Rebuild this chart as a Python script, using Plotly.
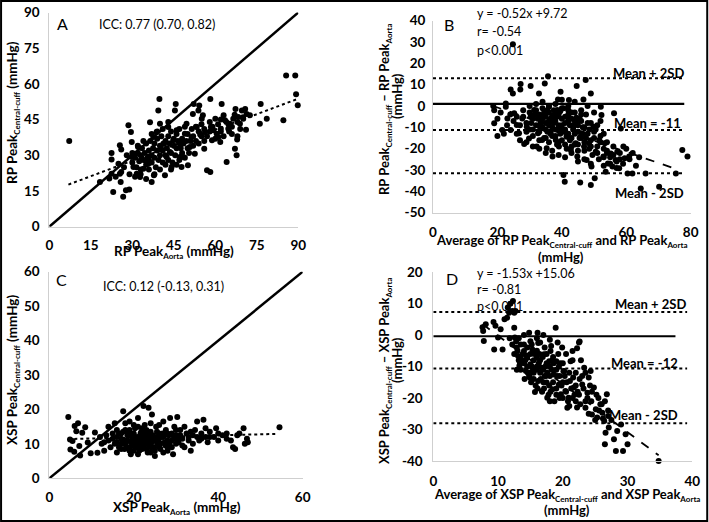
import plotly.graph_objects as go

# ---------------- Panel A: RP Peak Aorta vs RP Peak Central-cuff ----------------
a_pts = [
    (7.2, 36), (18.3, 18.8), (22.5, 31), (22.5, 28.2), (22.5, 22.3), (23.1, 14.6), (21.7, 20.2),
    (25, 26.5), (25.5, 34.2), (25.5, 22.3), (25.8, 18.8), (26, 32.4), (26.7, 12.6), (27.7, 15.3),
    (28.6, 42.6), (28.9, 15.6), (29.5, 39.8), (29.8, 35.6), (29.8, 29.3), (30.4, 25.1), (31, 30.7),
    (31.6, 22.3), (32.8, 20.9), (32.1, 33.5), (33.4, 28.6), (34, 24.4), (35.2, 27.2), (35.8, 26.5),
    (36.4, 43.9), (37, 18.8), (37.6, 37.7), (37.8, 21.6), (38.8, 39.8), (39.4, 48.8), (39.8, 53.7),
    (40, 43.3), (40.4, 32.8), (41.2, 34.9), (41.8, 21.6), (42.4, 29.3), (43, 41.9), (43.6, 31.4),
    (44.2, 25.1), (44.8, 36.3), (45.4, 48.8), (45.7, 51.6), (46, 40.5), (47.2, 34.9), (47.2, 29.3),
    (47.8, 25.1), (48.4, 29.3), (49, 39.1), (49.6, 43.3), (50.1, 25.8), (50.8, 33.5), (51.4, 37.7),
    (51.9, 47.4), (52.2, 51.6), (52.6, 30.7), (53.3, 41.9), (53.9, 48.8), (54.2, 50.9), (54.5, 39.1),
    (55.1, 45.4), (55.5, 46.8), (56, 32.8), (56.3, 39.8), (57, 23.7), (58.2, 23), (58.2, 53.7),
    (58.4, 41.9), (58.8, 36.3), (59.3, 40.5), (60, 45.4), (60.5, 39.1), (61.1, 37.7), (61.8, 35.6),
    (62, 41.2), (62.3, 51.6), (63, 46.8), (63.5, 44.7), (64.1, 27.2), (64.7, 41.2), (65.3, 43.3),
    (66.5, 45.4), (67.1, 32.8), (67.3, 49.5), (67.7, 30), (67.9, 36.6), (68.3, 46.1), (68.9, 43.3),
    (69.6, 48.8), (70.1, 45.4), (70.8, 49.5), (71.1, 40.7), (71.3, 47.4), (72.5, 46.8), (76.1, 43.3),
    (76.4, 51.6), (78.6, 45.4), (84.6, 44.7), (85.6, 63.5), (88.9, 63.5), (89.2, 55.6), (89.8, 51.0),
    (30, 27), (31, 29), (31.5, 25), (32, 31), (32.5, 27.5), (33, 30), (33, 24), (33.5, 33), (34, 28),
    (34.5, 31), (35, 26), (35, 35), (35.5, 29), (36, 32), (36, 24), (36.5, 36), (37, 30), (37, 27),
    (37.5, 33), (38, 35), (38, 29), (38.5, 25), (39, 32), (39, 37), (39.5, 28), (40, 34), (40, 30),
    (40.5, 38), (41, 27), (41, 32), (41.5, 35), (42, 30), (42, 36), (42.5, 33), (43, 28), (43, 38),
    (43.5, 35), (44, 31), (44, 40), (44.5, 27), (45, 34), (45, 37), (45.5, 30), (46, 33), (46, 39),
    (46.5, 36), (47, 28), (47, 41), (47.5, 33), (48, 37), (48, 31), (48.5, 35), (49, 29), (49, 42),
    (49.5, 36), (50, 33), (50, 39), (50.5, 31), (51, 36), (51.5, 41), (52, 34), (52, 38), (53, 36),
    (53, 42), (54, 35), (54, 40), (55, 38), (55, 43), (56, 41), (57, 38), (58, 44), (59, 42), (60, 37),
    (61, 43), (62, 40), (63, 38), (64, 44), (65, 40), (66, 42), (67, 47), (68, 44), (69, 41), (70, 46),
    (66, 39), (68, 38), (62, 45), (58, 40), (56, 36), (44, 24), (42, 26), (38, 22), (40, 24), (46, 26),
    (36, 28), (34, 36), (32, 34), (30, 31), (28, 30), (27, 25), (26, 23), (24, 21), (29, 22), (31, 21),
    (33, 22), (35, 20), (39, 40), (41, 41), (43, 44), (37, 39),
]
a_x = [p[0] for p in a_pts]
a_y = [p[1] for p in a_pts]
a_trend_x = [6.9, 89.8]
a_trend_y = [17.7, 53.7]
a_identity = [0, 90]
a_ticks = [0, 15, 30, 45, 60, 75, 90]

# ---------------- Panel B: Bland-Altman RP ----------------
b_pts = [
    (24.8, 29), (35.7, 14), (34.7, 10.6), (27.2, 10.3), (30.3, 9.4), (24.1, 7.8), (27.1, 7.8),
    (32.9, 5.9), (39.6, 6.7), (44.6, 9.4), (47.4, 12.2), (49, 5.9), (46.7, 3.1), (42.2, 2.8),
    (38.8, 3.1), (24.8, 5.9), (22.6, 1.2), (18.7, 0), (19, -8.1), (20, -14), (21.5, -11.2),
    (22.6, -0.3), (23.1, -5.8), (24.1, -11.2), (25.2, -3.4), (26, -8.9), (26.7, -12.8), (27.7, -5.8),
    (28.3, -17.8), (29.1, -9.7), (29.8, -15.2), (30.3, -5), (31.4, -1.9), (32.2, -19), (32.6, -12.8),
    (33.4, -8.1), (33.9, -15.9), (34.7, -4.2), (35.3, -19.8), (36, -0.3), (36.5, -12), (37.1, -23.7),
    (37.6, -6.6), (38.1, -15.9), (38.6, -1.9), (39.1, -19), (39.9, -10.5), (40.5, -32.3), (40.9, -35.5),
    (41.5, -14.4), (42.2, -5.8), (42.8, -20.6), (43.6, -9.7), (44.3, -17.5), (44.8, -23.7), (45.7, -35.9),
    (46.1, -12.8), (46.9, -19), (47.7, -25.3), (48.4, -17.5), (49, -37), (49.2, -28.4), (49.8, -9.7),
    (50.2, -33.9), (50.5, -21.4), (51.6, -15.9), (52.1, -0.3), (52.3, -4.2), (52.9, -23.7), (53.3, -17.5),
    (53.6, -30.8), (54.3, -26.9), (55.2, -22.2), (55.7, -28.4), (56.2, -3.4), (56.7, -25.3), (57.2, -21.4),
    (57.8, -29.2), (58.3, -10.5), (59.1, -19), (59.5, -24.5), (60.4, -31.6), (60.9, -23.7), (61.9, -31.6),
    (64.5, -38.6), (66, -31.6), (70.2, -37.8), (75.4, -31.6), (77.4, -20.6), (79, -23.7),
    (28, -5), (29, -8), (30, -3), (30, -11), (31, -6), (31, -14), (32, -2), (32, -9), (33, -4),
    (33, -12), (33.5, -7), (34, -1), (34, -10), (34.5, -15), (35, -5), (35, -8), (35.5, -12), (36, -3),
    (36, -17), (36.5, -6), (37, -10), (37, -14), (37.5, -2), (38, -7), (38, -11), (38.5, -18), (39, -4),
    (39, -9), (39.5, -13), (40, -6), (40, -16), (40.5, -1), (41, -8), (41, -11), (41.5, -20), (42, -4),
    (42, -13), (42.5, -9), (43, -6), (43, -15), (43.5, -11), (44, -3), (44, -18), (44.5, -8), (45, -12),
    (45, -21), (45.5, -6), (46, -15), (46.5, -10), (47, -17), (47.5, -4), (48, -13), (48.5, -20), (49, -8),
    (49.5, -23), (50, -15), (50.5, -11), (51, -19), (51.5, -25), (52, -14), (53, -20), (54, -17), (55, -24),
    (56, -19), (57, -26), (58, -22), (59, -27), (60, -20), (61, -25), (62, -22), (63, -28), (64, -24),
    (55, -27), (53, -28), (57, -29), (54, -22), (52, -7), (50, -3), (48, 0), (46, -2), (44, 2), (42, 0),
    (40, 3), (38, 1), (36, 0), (34, 2), (32, 1), (30, 0), (27, -9), (26, -13), (25, -7), (24, -4),
    (23, -9), (22, -13), (21, -3), (20, -6), (19, -2), (27, -16), (29, -17), (31, -19), (33, -20),
    (35, -22), (37, -21), (39, -23), (41, -24), (43, -22), (45, -26), (47, -25), (49, -27),
    (30.5, -8), (31.5, -4), (32.5, -6), (33, -9.5), (34, -6), (34.5, -3), (35, -11), (35.5, -2), (36, -9),
    (36.5, -13), (37, -4.5), (37.5, -8), (38, -14), (38.5, -5), (39, -11.5), (39.5, -2.5), (40, -9),
    (40.5, -12), (41, -5), (41.5, -14), (42, -7), (42.5, -16), (43, -3), (43.5, -9), (44, -13), (44.5, -5.5),
    (45, -9), (45.5, -15), (46, -7), (46.5, -13), (47, -10), (47.5, -15), (48, -8), (48.5, -11), (49, -16),
    (50, -12), (51, -9), (52, -17), (53, -13), (54, -21), (56, -23), (58, -25), (35, -15), (33, -16),
    (31, -11), (29, -12), (28, -2), (26, -5), (39, -17), (41, -18), (43, -19), (45, -18), (47, -21),
    (49, -19), (51, -22), (53, -24), (36, -7), (38, -3), (40, -1), (42, -2), (44, -7), (46, -4),
]
b_x = [p[0] for p in b_pts]
b_y = [p[1] for p in b_pts]
b_zero = 1.0
b_mean = -11.2
b_upper = 13.0
b_lower = -31.5
b_reg_x = [18.5, 76]
b_reg_y = [-0.52 * 18.5 + 9.72, -0.52 * 76 + 9.72]
b_ticks = [40, 30, 20, 10, 0, -10, -20, -30, -40, -50]
b_xticks = [0, 20, 40, 60, 80]

# ---------------- Panel C: XSP Peak Aorta vs XSP Peak Central-cuff ----------------
c_pts = [
    (4.5, 17.8), (4.9, 11.3), (5, 8.4), (5.5, 10.8), (5.9, 7.7), (6, 15.2), (6.4, 13.7), (6.8, 16),
    (7.1, 9.4), (7.3, 6.6), (7.8, 13.2), (8.5, 14.8), (9.1, 10.4), (9.8, 7.3), (10.8, 13.3), (11.4, 7.4),
    (12.4, 10), (13, 8), (13.5, 12.5), (14, 15), (14.5, 9), (15, 11.5), (15.5, 16), (16, 7.5), (16.5, 13),
    (17, 10), (17.5, 19.5), (17.8, 8.5), (18, 14), (18.5, 11), (19, 16.5), (19.3, 7), (19.6, 12.5),
    (20, 9.5), (20.3, 14.5), (20.6, 11), (21, 17.5), (21.3, 8), (21.6, 13), (22, 10), (22.3, 21),
    (22.6, 15.5), (23, 12), (23.3, 7.5), (23.5, 20.5), (23.8, 9.5), (24, 13.5), (24.3, 18.5), (24.6, 11),
    (25, 6.5), (25.3, 15), (25.6, 10), (26, 13), (26.3, 8.5), (26.6, 12), (27, 16.5), (27.3, 10.5),
    (27.6, 14), (28, 9), (28.3, 12.5), (28.6, 17.5), (29, 11), (29.3, 7), (29.6, 15), (30, 12.5),
    (30.3, 17.8), (30.6, 10.5), (31, 14), (31.5, 11.5), (32, 9), (32.5, 13), (33, 11), (33.5, 8),
    (34, 12.5), (34.5, 14), (35, 16.5), (35.5, 11), (36, 13), (36.5, 17), (37, 12), (37.5, 10.5),
    (38, 13.5), (39, 12), (39.5, 14.5), (40, 11), (41, 12.5), (42, 13), (43, 11), (43.5, 9), (44, 8.5),
    (44.5, 12.5), (45, 13), (46, 14.5), (46.3, 10), (46.8, 11.5), (47, 10.5), (54.5, 14.8),
    (15.5, 10), (16, 12), (16.5, 9), (17, 11.5), (17.5, 13.5), (18, 10), (18.5, 12.5), (19, 9), (19.5, 11),
    (20, 13), (20.5, 10), (21, 12), (21.5, 9.5), (22, 11.5), (22.5, 13), (23, 10), (23.5, 11.5), (24, 9),
    (24.5, 12.5), (25, 11), (25.5, 13.5), (26, 10.5), (27, 12), (28, 11), (29, 13), (30, 10), (18, 11),
    (20, 11.5), (22, 12), (24, 11), (19, 14), (21, 15), (23, 14), (17, 13), (16, 14), (20, 8), (22, 8.5),
    (24, 7.5), (26, 9), (28, 8), (30.5, 11.5), (31, 12.5), (33, 12), (36, 11.5), (38, 12), (20.8, 11.8),
    (21.8, 10.5), (19.8, 12.2), (23.2, 12.8),
    (16, 10.5), (17, 8.5), (17.5, 11), (18.3, 9), (18.8, 13), (19.3, 10.5), (19.8, 9.5), (20.3, 12),
    (20.8, 9), (21.3, 11), (21.8, 13.5), (22.3, 9.5), (22.8, 11), (23.3, 10), (23.8, 12), (24.3, 10.5),
    (24.8, 9), (25.3, 12), (25.8, 11.5), (26.3, 10), (26.8, 13), (27.5, 9.5), (28, 13), (28.5, 10),
    (29.5, 11.5), (30, 14), (31.5, 9.5), (32, 15), (33.5, 13.5), (34, 10), (35, 12), (37, 14.5), (40, 13),
    (42, 11.5), (18, 16), (20, 15.5), (22, 14.5), (24, 16), (26, 15.5), (15, 13), (14, 11), (13, 10.5),
    (12, 12), (19, 8), (21, 7), (23, 8.5), (25, 8), (27, 7.5), (29, 9),
]
c_x = [p[0] for p in c_pts]
c_y = [p[1] for p in c_pts]
c_trend_x = [4.5, 54]
c_trend_y = [11.4, 12.9]
c_identity = [0, 60]
c_ticks = [0, 10, 20, 30, 40, 50, 60]
c_xticks = [0, 20, 40, 60]

# ---------------- Panel D: Bland-Altman XSP ----------------
d_pts = [
    (7.6, 2.5), (7.7, 1.3), (7.8, -1.9), (8.1, 3.4), (9.3, 4.1), (9.4, -4.6), (9.6, 2.9), (10, -0.8),
    (10.4, 1.8), (10.7, -4.6), (11, 5), (11.4, 5.5), (11.5, 8.7), (11.7, 7.1), (11.9, 9.9), (12.2, 7.6),
    (12.3, 10.8), (12.5, 7.1), (12.7, 7.6), (12.5, 2.3), (12.6, -0.8), (12.9, -4), (13.1, -6.7),
    (13.3, -9.8), (13.5, -3), (13.7, -8.3), (14, -5.1), (14.3, -11.4), (14.5, -7.2), (14.8, 0.7),
    (14.9, -13.5), (15, -9.3), (15.3, -4.6), (15.5, -12), (15.7, -18.1), (16, -7.2), (16.1, 0.7),
    (16.2, -14.6), (16.5, -2.4), (16.7, -10.4), (16.8, -17.8), (17.1, -6.1), (17.2, -13), (17.5, -15.1),
    (17.6, -19.9), (17.9, -8.3), (18.1, -5.1), (18.4, -17.2), (18.6, -12.5), (18.7, -21), (18.9, 2.3),
    (19, -8.3), (19.2, -2.4), (19.4, -15.7), (19.7, -18.8), (19.9, -4), (20.2, -11.4), (20.4, -17.8),
    (20.7, -23.1), (20.9, -19.9), (21.1, -14.6), (21.2, -8.3), (21.5, -5.1), (21.7, -16.7), (22, -12),
    (22.2, -4.2), (22.5, -2.4), (22.6, -2.1), (22.7, -22), (23, -15.7), (23.3, -10.4), (23.5, -23.1),
    (23.8, -18.3), (24, -13.5), (24.3, -11.4), (24.4, -21), (24.5, -25.2), (24.8, -16.7), (25.1, -23.6),
    (25.3, -26.2), (25.8, -22), (26.1, -24.7), (26.4, -27.3), (26.5, -34.7), (26.6, -31), (26.8, -18.8),
    (27, -25.7), (27.1, -29.4), (27.9, -33.1), (28.2, -36.8), (28.4, -30.5), (29, -28.4), (29.3, -36.8),
    (29.7, -31.5), (30, -34.7), (34.8, -40),
    (13, -5), (13.5, -7), (14, -9), (14, -3), (14.5, -10), (15, -6), (15, -12), (15.5, -8), (15.5, -14),
    (16, -10), (16, -5), (16.5, -12), (16.5, -8), (17, -11), (17, -15), (17.5, -9), (17.5, -6), (18, -13),
    (18, -10), (18.5, -15), (18.5, -7), (19, -11), (19, -17), (19.5, -13), (20, -9), (20, -15), (20.5, -18),
    (21, -12), (21.5, -20), (22, -16), (22.5, -19), (23, -13), (23.5, -21), (12.8, -2), (13.2, -8),
    (14.8, -13), (15.8, -16), (16.8, -18), (17.8, -19), (12.5, -6), (13.5, -11), (14.5, -4), (15.2, -3),
    (16.2, -2.5), (17.2, -4), (18.2, -3.5), (11.8, -1), (12.2, -3), (19.5, -20), (20.8, -21), (22.2, -23),
    (24.5, -18), (25.5, -20), (26, -22), (24, -25), (25, -27), (27, -24), (26.2, -26.5),
    (13.8, -6), (14.2, -8), (14.6, -12), (15.2, -10), (15.6, -6), (15.9, -11), (16.3, -9), (16.6, -14),
    (16.9, -7), (17.3, -10), (17.6, -12), (17.9, -16), (18.3, -11), (18.6, -9), (19.1, -13), (19.4, -10),
    (19.8, -16), (20.3, -13), (20.6, -15), (21.3, -17), (21.8, -19), (22.3, -18), (23.2, -17), (23.8, -20),
    (14.4, -6.5), (15.4, -11), (16.4, -6), (17.4, -13), (18.4, -8), (19.3, -6), (13.4, -9), (12.9, -11),
    (14.1, -14), (15.1, -15), (16.1, -17), (17.1, -17), (18.1, -18), (19.6, -9), (20.1, -11.5),
    (21.6, -13.5), (22.6, -14), (24.2, -16), (25.2, -19), (26.5, -21), (27.5, -27), (25.6, -24), (22, -21),
    (21, -22.5), (20, -20), (19, -19), (18, -21), (15, -2), (16, -1), (17, 0), (18, -1.5), (14, 0),
    (13.2, -1), (20.5, -6), (21.5, -8), (22.8, -8), (23.5, -12),
]
d_x = [p[0] for p in d_pts]
d_y = [p[1] for p in d_pts]
d_zero = -0.4
d_mean = -10.6
d_upper = 7.3
d_lower = -28.0
d_reg_x = [7.6, 34.8]
d_reg_y = [-1.53 * 7.6 + 15.06, -1.53 * 34.8 + 15.06]
d_ticks = [20, 10, 0, -10, -20, -30, -40]
d_xticks = [0, 10, 20, 30, 40]

# ---------------- Figure ----------------
W, H = 709, 522
FONT = "Lato"
fig = go.Figure()


def px_x(p):
    return p / W


def px_y(p):
    return 1 - p / H


mk = dict(color="black", size=6)


def scatter(x, y, ax):
    fig.add_trace(go.Scatter(x=x, y=y, mode="markers", marker=mk, xaxis="x" + ax, yaxis="y" + ax,
                             cliponaxis=False, showlegend=False, hoverinfo="skip"))


def line(x, y, ax, dash="solid", width=2):
    fig.add_trace(go.Scatter(x=x, y=y, mode="lines", line=dict(color="black", width=width, dash=dash),
                             xaxis="x" + ax, yaxis="y" + ax, showlegend=False, hoverinfo="skip",
                             cliponaxis=False))


# A
line(a_identity, a_identity, "", width=2.5)
scatter(a_x, a_y, "")
line(a_trend_x, a_trend_y, "", dash="dot", width=2)
# B
scatter(b_x, b_y, "2")
line([0, 78], [b_zero, b_zero], "2", width=2.2)
for v in (b_upper, b_mean, b_lower):
    line([0, 78], [v, v], "2", dash="dot", width=2)
line(b_reg_x, b_reg_y, "2", dash="dash", width=1.8)
# C
line(c_identity, c_identity, "3", width=2.5)
scatter(c_x, c_y, "3")
line(c_trend_x, c_trend_y, "3", dash="dot", width=2)
# D
scatter(d_x, d_y, "4")
line([0, 37.4], [d_zero, d_zero], "4", width=2.2)
for v in (d_upper, d_mean, d_lower):
    line([0, 39.2], [v, v], "4", dash="dot", width=2)
line(d_reg_x, d_reg_y, "4", dash="dash", width=1.8)

tickfont = dict(family=FONT, size=13.5, color="black", weight="bold")


def axis(dom, rng, tv, standoff, **kw):
    d = dict(domain=dom, range=rng, tickvals=tv, ticktext=[str(t) for t in tv],
             showgrid=False, zeroline=False, showline=True, linecolor="#cfcfcf", linewidth=1,
             ticks="", tickfont=tickfont, fixedrange=True, automargin=False,
             ticklabelstandoff=standoff)
    d.update(kw)
    return d


fig.update_layout(
    width=W, height=H, margin=dict(l=0, r=0, t=0, b=0, pad=0, autoexpand=False),
    paper_bgcolor="white", plot_bgcolor="white",
    xaxis=axis([px_x(49.3), px_x(298.3)], [0, 90], a_ticks, 6, anchor="y"),
    yaxis=axis([px_y(226.7), px_y(12.5)], [0, 90], a_ticks, 6, anchor="x"),
    xaxis2=axis([px_x(433), px_x(690.7)], [0, 80], b_xticks, 7, anchor="y2"),
    yaxis2=axis([px_y(212.7), px_y(20.7)], [-50, 40], b_ticks, 4, anchor="x2"),
    xaxis3=axis([px_x(49.3), px_x(302.7)], [0, 60], c_xticks, 6, anchor="y3"),
    yaxis3=axis([px_y(478.3), px_y(271.7)], [0, 60], c_ticks, 6, anchor="x3"),
    xaxis4=axis([px_x(433.3), px_x(692.3)], [0, 40], d_xticks, 8, anchor="y4"),
    yaxis4=axis([px_y(461), px_y(272)], [-40, 20], d_ticks, 7, anchor="x4"),
)

ann = []


def text(x, y, s, size=12, bold=False, xanchor="left", angle=0):
    ann.append(dict(x=px_x(x), y=px_y(y), xref="paper", yref="paper", text=s, showarrow=False,
                    xanchor=xanchor, yanchor="middle", textangle=angle, borderpad=0,
                    font=dict(family=FONT, size=size, color="black", weight="bold" if bold else "normal")))


def sub(s, size=8):
    return '<sub><span style="font-size:%dpx">%s</span></sub>' % (size, s)


# A texts
text(56, 23.5, "A", size=16)
text(98, 25, "ICC: 0.77 (0.70, 0.82)", size=12.5)
text(174, 252, "RP Peak" + sub("Aorta") + " (mmHg)", size=13.5, bold=True, xanchor="center")
text(13, 113, "RP Peak" + sub("Central-cuff") + " (mmHg)", size=13.5, bold=True, xanchor="center", angle=-90)
# B texts
text(443, 25, "B", size=16)
text(476, 13.5, "y = -0.52x +9.72", size=12.5)
text(476, 31.5, "r= -0.54", size=12.5)
text(476, 50, "p<0.001", size=12.5)
text(685, 73, "Mean + 2SD", size=13, bold=True, xanchor="right")
text(682, 123, "Mean = -11", size=13, bold=True, xanchor="right")
text(685, 193, "Mean - 2SD", size=13, bold=True, xanchor="right")
text(385, 109, "RP Peak" + sub("Central-cuff") + " \u2013 RP Peak" + sub("Aorta"), size=13, bold=True,
     xanchor="center", angle=-90)
text(397, 96, "(mmHg)", size=13, bold=True, xanchor="center", angle=-90)
text(561, 241, "Average of RP Peak" + sub("Central-cuff") + " and RP Peak" + sub("Aorta"), size=13, bold=True,
     xanchor="center")
text(561, 257, "(mmHg)", size=13, bold=True, xanchor="center")
# C texts
text(55, 279, "C", size=16)
text(102, 286, "ICC: 0.12 (-0.13, 0.31)", size=12.5)
text(177, 507.5, "XSP Peak" + sub("Aorta") + " (mmHg)", size=13.5, bold=True, xanchor="center")
text(13, 370, "XSP Peak" + sub("Central-cuff") + " (mmHg)", size=13.5, bold=True, xanchor="center", angle=-90)
# D texts
text(445, 278, "D", size=16)
text(476, 273, "y = -1.53x +15.06", size=12.5)
text(476, 289.5, "r= -0.81", size=12.5)
text(476, 306, "p<0.001", size=12.5)
text(687, 304, "Mean + 2SD", size=13, bold=True, xanchor="right")
text(679, 363, "Mean = -12", size=13, bold=True, xanchor="right")
text(679, 415, "Mean - 2SD", size=13, bold=True, xanchor="right")
text(385, 371, "XSP Peak" + sub("Central-cuff") + " \u2013 XSP Peak" + sub("Aorta"), size=13, bold=True,
     xanchor="center", angle=-90)
text(397, 360, "(mmHg)", size=13, bold=True, xanchor="center", angle=-90)
text(567, 494.5, "Average of XSP Peak" + sub("Central-cuff") + " and XSP Peak" + sub("Aorta"), size=13, bold=True,
     xanchor="center")
text(567, 509.5, "(mmHg)", size=13, bold=True, xanchor="center")

fig.update_layout(annotations=ann)
fig.add_shape(type="rect", xref="paper", yref="paper", x0=0.0015, x1=0.9975, y0=0.002, y1=0.998,
              line=dict(color="black", width=2), fillcolor="rgba(0,0,0,0)", layer="above")

fig.write_html("out.html", config={"displayModeBar": False, "staticPlot": True},
               post_script="document.body.style.margin='0';document.body.style.padding='0';")
